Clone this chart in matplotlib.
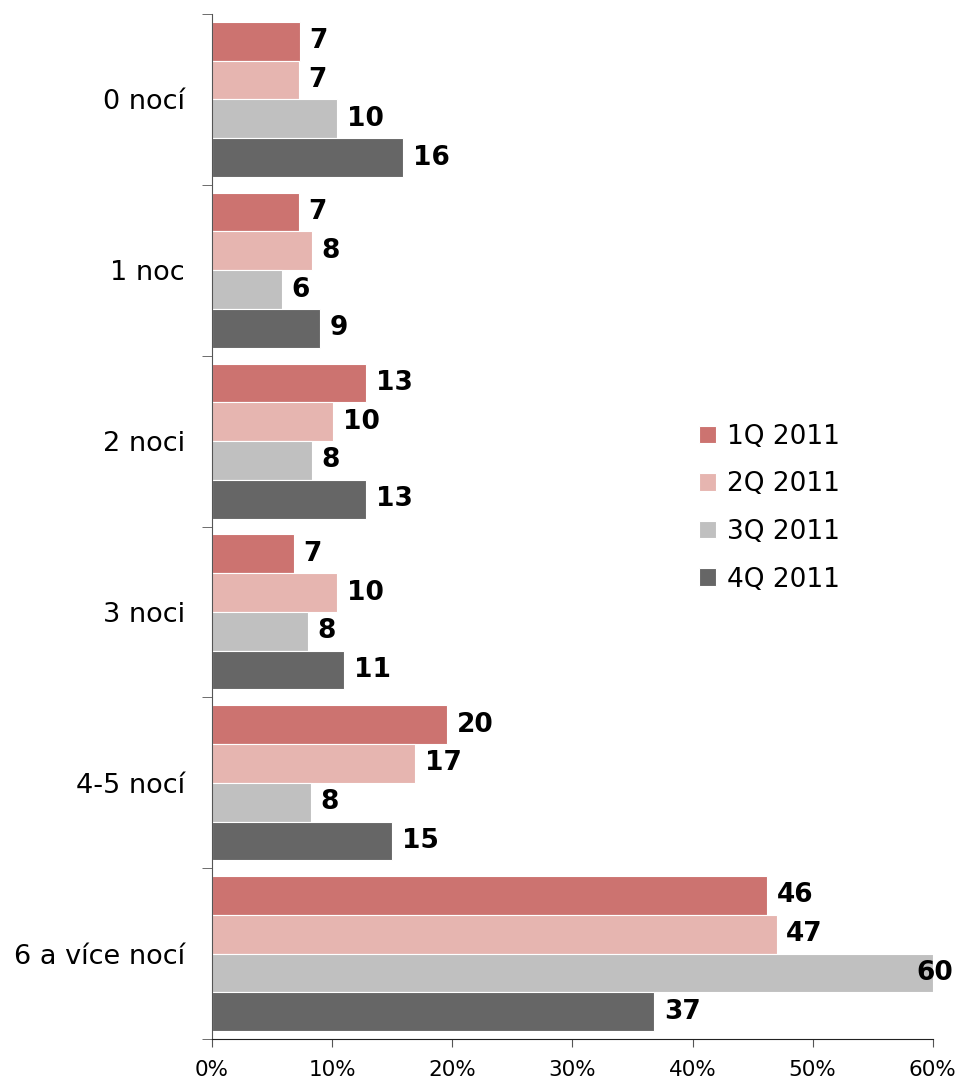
import numpy as np
import matplotlib.pyplot as plt
from matplotlib.ticker import FixedLocator, PercentFormatter

categories = ['0 nocí', '1 noc', '2 noci', '3 noci', '4-5 nocí', '6 a více nocí']
series = ['1Q 2011', '2Q 2011', '3Q 2011', '4Q 2011']
q1 = [7.3, 7.2, 12.8, 6.8, 19.6, 46.2]
q2 = [7.2, 8.3, 10.1, 10.4, 16.9, 47.0]
q3 = [10.4, 5.8, 8.3, 8.0, 8.2, 60.0]
q4 = [15.9, 9.0, 12.8, 11.0, 15.0, 36.8]
colors = ['#CC7370', '#E6B5B0', '#C0C0C0', '#666666']

fig = plt.figure(figsize=(9.62, 10.82), dpi=100)
ax = fig.add_axes([0.2204, 0.0397, 0.7492, 0.9474])

y = np.arange(len(categories))
h = 0.227
for i, (vals, name) in enumerate(zip([q1, q2, q3, q4], series)):
    pos = y - 1.5 * h + i * h
    ax.barh(pos, vals, height=h, color=colors[i], edgecolor='white',
            linewidth=0.8, label=name)
    for p, v in zip(pos, vals):
        # keep the last label inside the figure, like the original
        ax.annotate(f'{round(v)}', (min(v, 57.8), p), xytext=(7, 0),
                    textcoords='offset points', va='center', ha='left',
                    fontsize=19, fontweight='bold')

ax.set_xlim(0, 60)
ax.set_ylim(len(categories) - 0.5, -0.5)
ax.xaxis.set_major_locator(FixedLocator(np.arange(0, 61, 10)))
ax.xaxis.set_major_formatter(PercentFormatter(decimals=0))
ax.set_yticks(y)
ax.set_yticklabels(categories)
ax.yaxis.set_minor_locator(FixedLocator(np.arange(-0.5, len(categories), 1)))
ax.tick_params(axis='y', which='major', length=0, pad=19.5, labelsize=19.5)
ax.tick_params(axis='y', which='minor', length=7, color='#555555')
ax.tick_params(axis='x', length=6, labelsize=15.5, pad=9, color='#555555')

for s in ['top', 'right']:
    ax.spines[s].set_visible(False)
ax.spines['left'].set_color('#555555')
ax.spines['bottom'].set_color('#222222')

ax.legend(loc='center left', bbox_to_anchor=(0.643, 0.518), frameon=False,
          fontsize=19, handlelength=0.65, handleheight=0.65, handletextpad=0.4,
          labelspacing=0.82)

fig.savefig('out.png', dpi=100)
